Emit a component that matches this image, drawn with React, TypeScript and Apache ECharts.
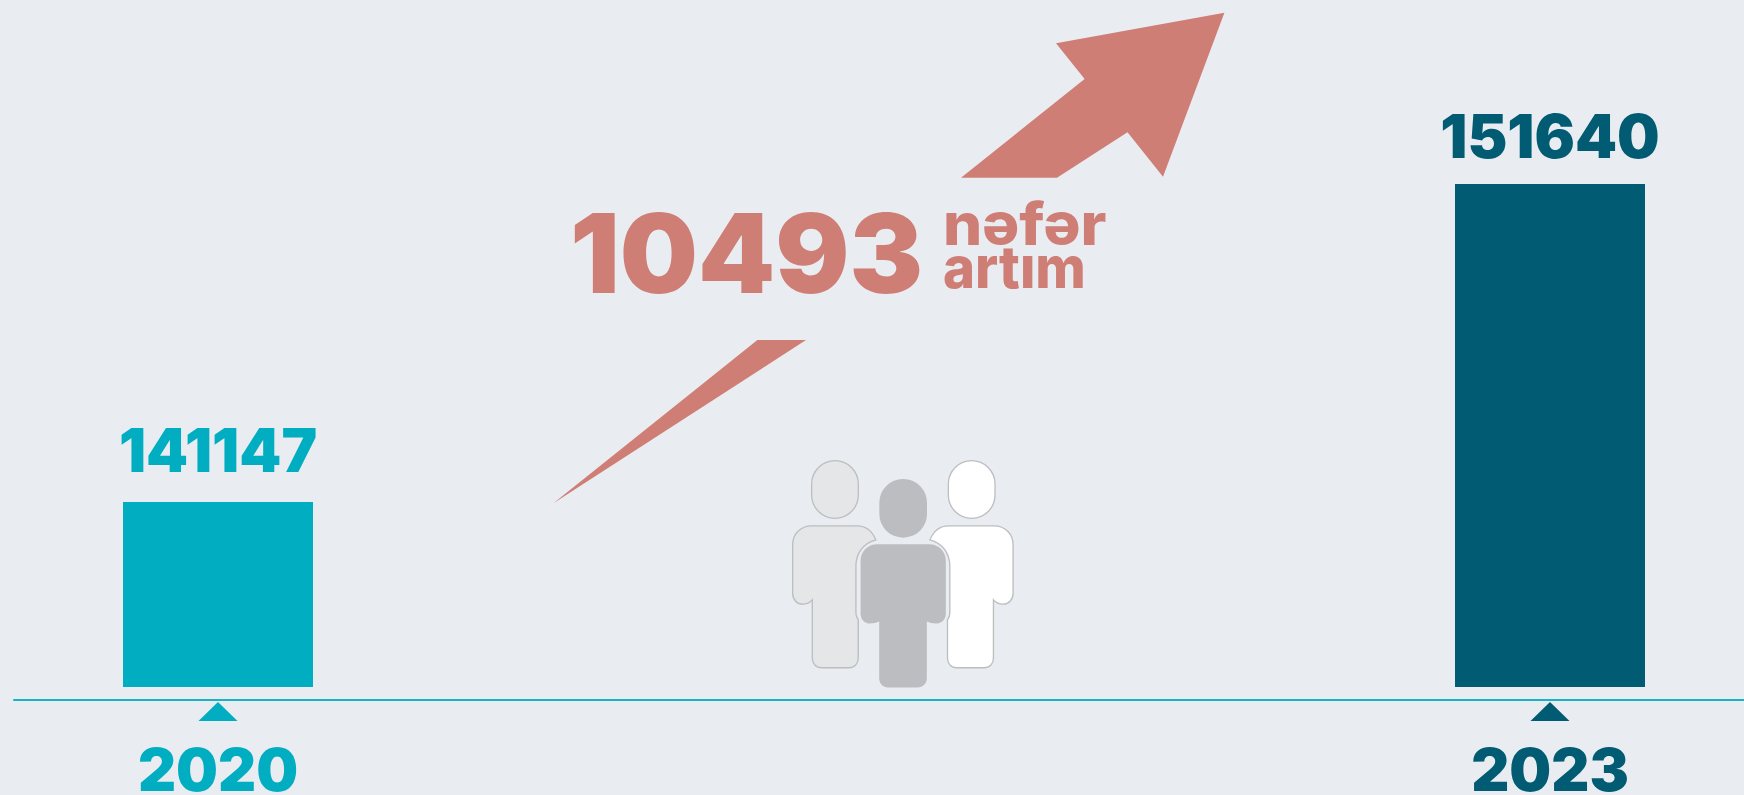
import React, { useEffect, useRef } from "react";
import * as echarts from "echarts";

const years = [2020, 2023];
const population = [141147, 151640];
const barColors = ["#00adc1", "#005b73"];
const growthValue = "10493";
const captionLines = ["nəfər", "artım"];

const BG = "#e9edf2";
const ACCENT = "#cf7e75";
const AXIS = "#17b4c8";
const FONT = "Inter";
const yMin = 135043;
const yMax = 151640;

const leftBodyD =
  "M318 300 C306 272 288 258 262 258 L125 258 C92 258 68 282 68 315 L68 460 C68 480 82 493 98 493 C110 493 120 488 127 480 L127 655 C127 672 138 684 155 684 L237 684 C254 684 265 672 265 655 L265 540 C261 534 258 528 258 520 L258 380 C258 340 280 310 318 300 Z";
const rightBodyD =
  "M480 300 C492 272 510 258 536 258 L673 258 C706 258 730 282 730 315 L730 460 C730 480 716 493 700 493 C688 493 678 488 671 480 L671 655 C671 672 660 684 643 684 L561 684 C544 684 533 672 533 655 L533 540 C537 534 540 528 540 520 L540 380 C540 340 518 310 480 300 Z";
const midBodyD =
  "M322 313 L478 313 C506 313 528 335 528 363 L528 520 C528 538 516 551 498 551 C488 551 478 549 471 545 L471 715 C471 732 460 743 443 743 L355 743 C338 743 328 732 328 715 L328 545 C321 549 311 551 300 551 C284 551 272 538 272 520 L272 363 C272 335 294 313 322 313 Z";

echarts.graphic.registerShape("leftBody", echarts.graphic.extendPath(leftBodyD, {}));
echarts.graphic.registerShape("rightBody", echarts.graphic.extendPath(rightBodyD, {}));
echarts.graphic.registerShape("midBody", echarts.graphic.extendPath(midBodyD, {}));

const pxPerYear = (1550 - 218) / 3;

export default function App() {
  const ref = useRef<HTMLDivElement>(null);
  useEffect(() => {
    document.body.style.margin = "0";
    const chart = echarts.init(ref.current!, undefined, { renderer: "svg" });
    const personStroke = { stroke: "#bcbec0", lineWidth: 4 };
    const peopleScale = { x: 770, y: 440, scaleX: 1 / 3, scaleY: 1 / 3 };
    const captionStyle = {
      fill: ACCENT,
      fontFamily: FONT,
      fontWeight: 800,
      fontSize: 58,
      lineHeight: 42,
      textAlign: "left",
      textVerticalAlign: "middle",
    };
    chart.setOption({
      animation: false,
      backgroundColor: BG,
      grid: { left: 14, right: 0, top: 184, height: 503, outerBoundsMode: "none" },
      xAxis: {
        type: "value",
        min: years[0] - 204 / pxPerYear,
        max: years[1] + 194 / pxPerYear,
        offset: 13,
        splitLine: { show: false },
        axisTick: { show: false },
        axisLine: { show: true, onZero: false, lineStyle: { color: AXIS, width: 2 } },
        axisLabel: {
          customValues: years,
          formatter: (v: number) => String(v),
          margin: 46,
          lineHeight: 46,
          fontFamily: FONT,
          fontWeight: 900,
          fontSize: 59,
          color: (v: any) => barColors[years.indexOf(Number(v))],
        },
      },
      yAxis: { type: "value", min: yMin, max: yMax, show: false },
      series: [
        {
          type: "bar",
          barWidth: 190,
          silent: true,
          data: years.map((y, i) => ({
            value: [y, population[i]],
            itemStyle: { color: barColors[i] },
            label: { color: barColors[i], distance: i === 0 ? 22 : 18 },
          })),
          label: {
            show: true,
            position: "top",
            fontFamily: FONT,
            fontWeight: 900,
            fontSize: 60,
            formatter: (p: any) => String(p.value[1]),
          },
        },
        {
          type: "scatter",
          silent: true,
          clip: false,
          symbol: "triangle",
          symbolSize: [39, 19],
          symbolOffset: [0, 24.5],
          data: years.map((y, i) => ({
            value: [y, yMin],
            itemStyle: { color: barColors[i], opacity: 1 },
          })),
        },
      ],
      graphic: [
        {
          type: "polygon",
          silent: true,
          shape: {
            points: [
              [1224.4, 12.7], [1056, 43.3], [1084.6, 79], [961, 177.7],
              [1057, 177.7], [1127.5, 132.3], [1163, 176.7],
            ],
          },
          style: { fill: ACCENT },
        },
        {
          type: "polygon",
          silent: true,
          shape: { points: [[553.4, 503.3], [757.4, 340], [806, 340]] },
          style: { fill: ACCENT },
        },
        {
          type: "text",
          x: 570,
          y: 253,
          style: {
            text: growthValue,
            fill: ACCENT,
            fontFamily: FONT,
            fontWeight: 900,
            fontSize: 110,
            textAlign: "left",
            textVerticalAlign: "middle",
          },
        },
        { type: "text", x: 943, y: 224, scaleX: 1.065, style: { text: captionLines[0], ...captionStyle } },
        { type: "text", x: 943, y: 267, scaleX: 0.94, style: { text: captionLines[1], ...captionStyle } },
        { type: "rect", x: 770, y: 440, shape: { x: 125 / 3, y: 62 / 3, width: 140 / 3, height: 173 / 3, r: 70 / 3 }, style: { fill: "#e4e6e8", stroke: "#bcbec0", lineWidth: 1.3 } },
        { type: "rect", x: 770, y: 440, shape: { x: 535 / 3, y: 62 / 3, width: 140 / 3, height: 173 / 3, r: 70 / 3 }, style: { fill: "#ffffff", stroke: "#bcbec0", lineWidth: 1.3 } },
        { type: "rect", x: 770, y: 440, shape: { x: 328 / 3, y: 117 / 3, width: 143 / 3, height: 176 / 3, r: 71 / 3 }, style: { fill: "#bbbdc0" } },
        { type: "leftBody", ...peopleScale, style: { fill: "#e4e6e8", ...personStroke } },
        { type: "rightBody", ...peopleScale, style: { fill: "#ffffff", ...personStroke } },
        { type: "midBody", ...peopleScale, style: { fill: "#bbbdc0" } },
      ],
    });
    return () => chart.dispose();
  }, []);
  return <div ref={ref} style={{ width: 1744, height: 795, display: "block" }} />;
}
